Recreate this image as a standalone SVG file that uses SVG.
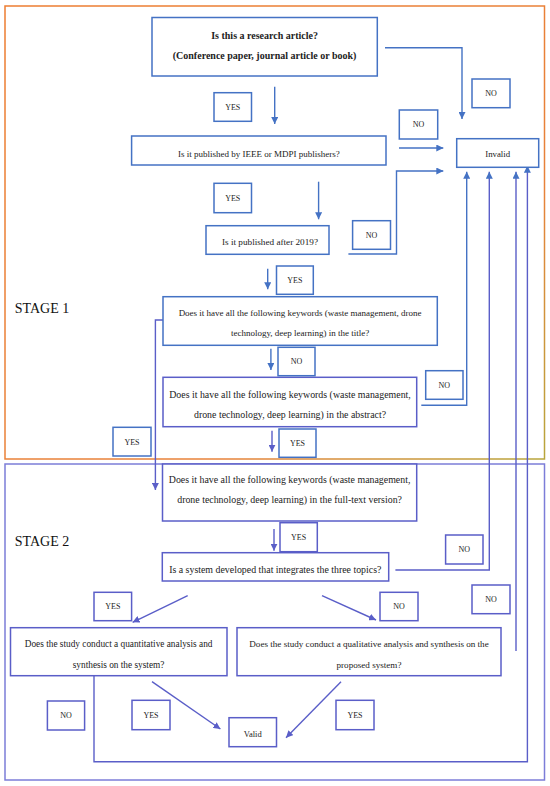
<svg xmlns="http://www.w3.org/2000/svg" width="550" height="786" viewBox="0 0 550 786">
<defs>
<style>
text{font-family:"Liberation Serif","Times New Roman",serif;fill:#222;text-anchor:middle}
.b{fill:#fff;stroke:#4472C4;stroke-width:1.5}
.p{fill:#fff;stroke:#5A5EC8;stroke-width:1.5}
.l{font-size:8px}
.c{fill:none;stroke:#4472C4;stroke-width:1.4}
.c2{fill:none;stroke:#5A5EC8;stroke-width:1.4}
.st{font-size:14px;text-anchor:start;fill:#111}
</style>
<linearGradient id="og" x1="0" y1="0" x2="1" y2="1">
<stop offset="0" stop-color="#ED7D31"/>
<stop offset="0.7" stop-color="#E8823A"/>
<stop offset="1" stop-color="#B8A63C"/>
</linearGradient>
<marker id="a" viewBox="0 0 8 8" refX="8" refY="4" markerWidth="7" markerHeight="7" markerUnits="userSpaceOnUse" orient="auto">
<path d="M0,0 L8,4 L0,8 Z" fill="#4472C4"/>
</marker>
<marker id="a2" viewBox="0 0 8 8" refX="8" refY="4" markerWidth="7" markerHeight="7" markerUnits="userSpaceOnUse" orient="auto">
<path d="M0,0 L8,4 L0,8 Z" fill="#5A5EC8"/>
</marker>
</defs>
<rect width="550" height="786" fill="#fff"/>

<g id="stage1">
<rect x="5" y="6" width="539.5" height="453" fill="none" stroke="url(#og)" stroke-width="1.5"/>
<text class="st" x="14.7" y="313">STAGE 1</text>
</g>
<g id="stage2">
<rect x="5" y="464" width="539.5" height="316" fill="none" stroke="#7C7DD8" stroke-width="1.5"/>
<text class="st" x="14.7" y="546">STAGE 2</text>
</g>

<g id="connectors">
<path class="c" d="M385,47.7 H462 V119" marker-end="url(#a)"/>
<path class="c" d="M274.7,86.7 V124" marker-end="url(#a)"/>
<path class="c" d="M399,148 H443.3" marker-end="url(#a)"/>
<path class="c" d="M348.4,254 H396.5 V171 H443.3" marker-end="url(#a)"/>
<path class="c" d="M318.6,181.7 V219.3" marker-end="url(#a)"/>
<path class="c" d="M267.7,268.7 V289.3" marker-end="url(#a)"/>
<path class="c2" d="M163,320 H155.4 V490" marker-end="url(#a2)"/>
<path class="c" d="M270.9,348.7 V370" marker-end="url(#a)"/>
<path class="c" d="M421.3,405.3 H466.7 V171.7" marker-end="url(#a)"/>
<path class="c2" d="M272,430.7 V451.7" marker-end="url(#a2)"/>
<path class="c2" d="M274,529 V550.7" marker-end="url(#a2)"/>
<path class="c2" d="M395.4,570 H489.3 V171.7" marker-end="url(#a)"/>
<path class="c2" d="M187.7,595.7 L132.6,622.3" marker-end="url(#a2)"/>
<path class="c2" d="M322,595.7 L376,620" marker-end="url(#a2)"/>
<path class="c2" d="M516,651 V171.7" marker-end="url(#a)"/>
<path class="c2" d="M94,675.7 V761.7 H527.4 V165.7" marker-end="url(#a)"/>
<path class="c2" d="M152,681.7 L220.4,729" marker-end="url(#a2)"/>
<path class="c2" d="M341,681.7 L286,737.7" marker-end="url(#a2)"/>
</g>

<g id="q1">
<rect class="b" x="152" y="17.5" width="225.3" height="58.5"/>
<text x="264.6" y="38.5" font-size="10" font-weight="bold">Is this a research article?</text>
<text x="264.6" y="58.5" font-size="10" font-weight="bold">(Conference paper, journal article or book)</text>
</g>
<g id="q2">
<rect class="b" x="131.6" y="136" width="254.4" height="29"/>
<text x="258.8" y="157" font-size="9">Is it published by IEEE or MDPI publishers?</text>
</g>
<g id="q3">
<rect class="b" x="206" y="225.7" width="123" height="28.6"/>
<text x="270" y="245.3" font-size="9.2">Is it published after 2019?</text>
</g>
<g id="q4">
<rect class="b" x="163" y="296.7" width="274.3" height="48.6"/>
<text x="300.1" y="316.3" font-size="9">Does it have all the following keywords (waste management, drone</text>
<text x="300.1" y="336.3" font-size="9">technology, deep learning) in the title?</text>
</g>
<g id="q5">
<rect class="p" x="163" y="377.3" width="253.7" height="49.4"/>
<text x="290" y="397.5" font-size="9.9">Does it have all the following keywords (waste management,</text>
<text x="290" y="417.5" font-size="9.9">drone technology, deep learning) in the abstract?</text>
</g>
<g id="q6">
<rect class="p" x="162.5" y="464" width="254.2" height="57"/>
<text x="289.6" y="483.2" font-size="9.9">Does it have all the following keywords (waste management,</text>
<text x="289.6" y="503.2" font-size="9.9">drone technology, deep learning) in the full-text version?</text>
</g>
<g id="q7">
<rect class="p" x="162.3" y="552.7" width="226.4" height="28.3"/>
<text x="275.3" y="573.2" font-size="9.9">Is a system developed that integrates the three topics?</text>
</g>
<g id="q8">
<rect class="p" x="10.5" y="627.7" width="216.5" height="48"/>
<text x="118.6" y="646.5" font-size="9.3">Does the study conduct a quantitative analysis and</text>
<text x="118.6" y="667.5" font-size="9.3">synthesis on the system?</text>
</g>
<g id="q9">
<rect class="p" x="237" y="627.7" width="264" height="48"/>
<text x="369" y="646.5" font-size="9.1">Does the study conduct a qualitative analysis and synthesis on the</text>
<text x="369" y="667.5" font-size="9.1">proposed system?</text>
</g>
<g id="invalid">
<rect class="b" x="456.7" y="138.7" width="82" height="28.6"/>
<text x="497.7" y="157" font-size="8.8">Invalid</text>
</g>
<g id="valid">
<rect class="p" x="229" y="717.7" width="47.5" height="29"/>
<text x="252.7" y="737" font-size="8.5">Valid</text>
</g>

<g id="yes1"><rect class="b" x="214" y="92.7" width="37.5" height="28.6"/><text class="l" x="232.7" y="109.8">YES</text></g>
<g id="no1"><rect class="b" x="472" y="79" width="38" height="28.7"/><text class="l" x="491" y="96.2">NO</text></g>
<g id="no2"><rect class="b" x="399.3" y="110" width="38.4" height="29"/><text class="l" x="418.5" y="127.3">NO</text></g>
<g id="yes2"><rect class="b" x="214" y="183.3" width="37.5" height="29.4"/><text class="l" x="232.7" y="200.8">YES</text></g>
<g id="no3"><rect class="b" x="352.6" y="220.7" width="37.9" height="28.6"/><text class="l" x="371.5" y="237.8">NO</text></g>
<g id="yes3"><rect class="b" x="276.5" y="266" width="36.8" height="28.3"/><text class="l" x="294.9" y="283">YES</text></g>
<g id="no4"><rect class="b" x="278" y="347.3" width="37" height="28.4"/><text class="l" x="296.5" y="364.3">NO</text></g>
<g id="no5"><rect class="b" x="425.7" y="370.7" width="37.3" height="28.6"/><text class="l" x="444.3" y="387.8">NO</text></g>
<g id="yes4"><rect class="b" x="113" y="427.3" width="38" height="28.7"/><text class="l" x="132" y="444.5">YES</text></g>
<g id="yes5"><rect class="b" x="279" y="429" width="37" height="28.3"/><text class="l" x="297.5" y="446">YES</text></g>
<g id="yes6"><rect class="p" x="280" y="522.7" width="37.3" height="29"/><text class="l" x="298.6" y="540">YES</text></g>
<g id="no6"><rect class="p" x="445.6" y="535" width="37.4" height="29"/><text class="l" x="464.3" y="552.3">NO</text></g>
<g id="yes7"><rect class="p" x="94" y="592.3" width="37.6" height="28.4"/><text class="l" x="112.8" y="609.3">YES</text></g>
<g id="no7"><rect class="p" x="380" y="592.3" width="38" height="28.4"/><text class="l" x="399" y="609.3">NO</text></g>
<g id="no8"><rect class="p" x="472" y="585" width="38" height="28.7"/><text class="l" x="491" y="602.2">NO</text></g>
<g id="no9"><rect class="p" x="47.4" y="701" width="37.2" height="29"/><text class="l" x="66" y="718.3">NO</text></g>
<g id="yes8"><rect class="p" x="132" y="700.3" width="38" height="29.4"/><text class="l" x="151" y="717.8">YES</text></g>
<g id="yes9"><rect class="p" x="336" y="700.3" width="38" height="29.4"/><text class="l" x="355" y="717.8">YES</text></g>
</svg>
